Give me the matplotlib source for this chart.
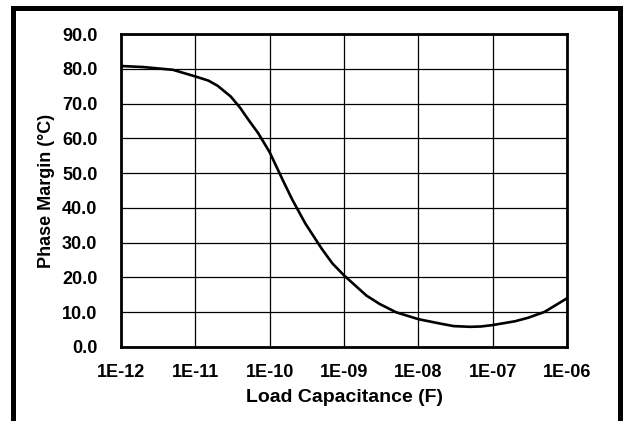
"""Phase margin vs load capacitance."""

import matplotlib.pyplot as plt
from matplotlib.patches import Rectangle

# Curve (capacitance in F, phase margin)
load_cap = [1e-12, 2e-12, 5e-12, 1e-11, 1.5e-11, 2e-11, 3e-11, 4e-11, 5e-11, 7e-11,
            1e-10, 1.5e-10, 2e-10, 3e-10, 5e-10, 7e-10, 1e-9, 2e-9, 3e-9, 5e-9,
            1e-8, 2e-8, 3e-8, 5e-8, 7e-8, 1e-7, 2e-7, 3e-7, 5e-7, 1e-6]
phase_margin = [80.8, 80.5, 79.7, 77.8, 76.6, 75.1, 72.0, 68.8, 65.8, 61.5,
                56.0, 48.0, 42.5, 35.6, 28.3, 24.0, 20.6, 14.8, 12.4, 10.0,
                8.0, 6.7, 6.0, 5.8, 5.9, 6.3, 7.4, 8.4, 10.1, 14.0]
x_ticks = [1e-12, 1e-11, 1e-10, 1e-9, 1e-8, 1e-7, 1e-6]
x_tick_labels = ['1E-12', '1E-11', '1E-10', '1E-09', '1E-08', '1E-07', '1E-06']
y_ticks = [0, 10, 20, 30, 40, 50, 60, 70, 80, 90]

plt.rcParams['font.family'] = ['Liberation Sans', 'DejaVu Sans']
plt.rcParams['font.weight'] = 'bold'

fig = plt.figure(figsize=(6.29, 4.21), dpi=100)
ax = fig.add_axes([0.1924, 0.1758, 0.709, 0.7434])

ax.plot(load_cap, phase_margin, color='black', lw=1.9, zorder=3)
ax.set_xscale('log')
ax.set_xlim(1e-12, 1e-6)
ax.set_ylim(0, 90)
ax.set_xticks(x_ticks)
ax.set_xticklabels(x_tick_labels)
ax.minorticks_off()
ax.set_yticks(y_ticks)
ax.set_yticklabels([f'{v:.1f}' for v in y_ticks])
ax.tick_params(length=0, labelsize=13)
ax.tick_params(axis='y', pad=17)
ax.tick_params(axis='x', pad=12)
ax.grid(True, color='black', lw=0.9)
ax.set_axisbelow(True)
for s in ax.spines.values():
    s.set_linewidth(2.0)

ax.set_xlabel('Load Capacitance (F)', fontsize=14, fontweight='bold', labelpad=6)
ax.set_ylabel('Phase Margin (°C)', fontsize=13, fontweight='bold', labelpad=5)

# Outer black frame (bottom edge runs off the image)
fig.patches.append(Rectangle((0.0199, -0.2), 0.9650, 1.18, transform=fig.transFigure,
                             fill=False, edgecolor='black', lw=3.6, clip_on=False))

fig.savefig('out.png', dpi=100)
